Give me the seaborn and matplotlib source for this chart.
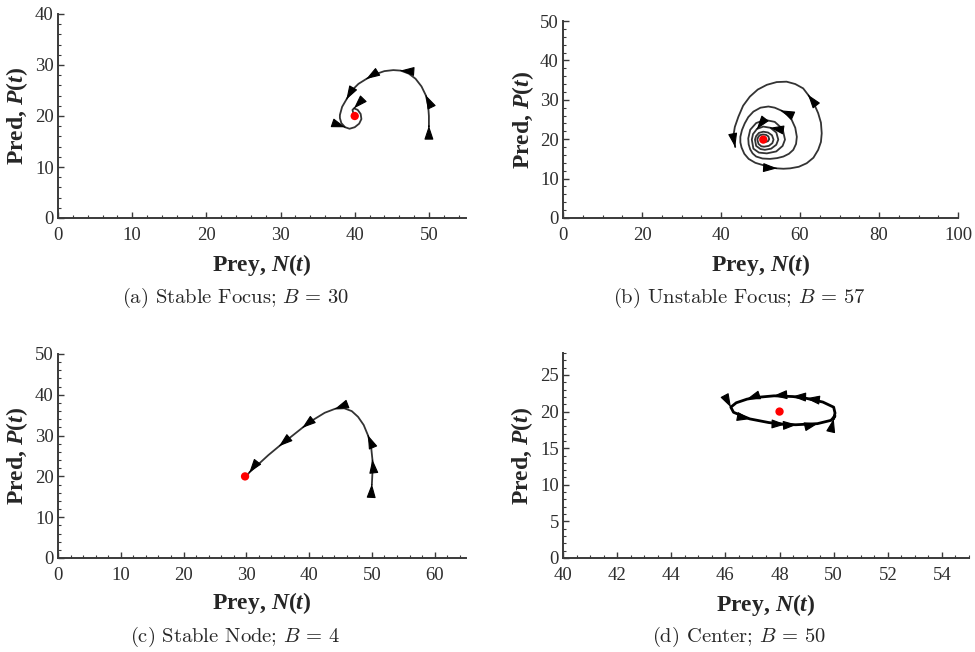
import numpy as np
import pandas as pd
import matplotlib
matplotlib.use("Agg")
import matplotlib.pyplot as plt
import seaborn as sns
from matplotlib.ticker import MultipleLocator

sns.set_style("ticks")
plt.rcParams["font.family"] = ["Liberation Serif", "DejaVu Serif"]
plt.rcParams["mathtext.fontset"] = "custom"
plt.rcParams["mathtext.rm"] = "Liberation Serif:bold"
plt.rcParams["mathtext.it"] = "Liberation Serif:bold:italic"
plt.rcParams["mathtext.bf"] = "Liberation Serif:bold"

# (a) Stable focus, B = 30
prey_a = [50.0, 50.0, 49.9, 49.6, 49.0, 48.2, 47.3, 46.2, 45.2, 44.0, 42.8, 41.6, 40.5,
          39.6, 38.9, 38.3, 38.0, 38.0, 38.2, 38.7, 39.3, 40.0, 40.6, 40.9, 40.8, 40.4,
          39.9, 39.7, 39.8, 40.0]
pred_a = [18.0, 20.0, 22.0, 24.0, 25.8, 27.3, 28.3, 28.9, 29.0, 28.8, 28.2, 27.3, 26.3,
          25.0, 23.3, 21.8, 20.2, 19.6, 18.6, 17.8, 17.5, 17.8, 18.5, 19.4, 20.4, 21.2,
          21.5, 21.2, 20.6, 20.0]
arrows_a = [0, 3, 7, 11, 14, 19, 26]
eq_a = (40.0, 20.0)

# (b) Unstable focus, B = 57 (spiral read ring by ring, inside out)
prey_b = [50.7, 51.3, 51.9, 52.2, 52.0, 51.4, 50.6, 49.8, 49.4,
          49.2, 49.5, 50.2, 50.9, 52.1, 53.0, 53.3, 52.9, 51.9, 50.7, 49.6, 48.9,
          48.6, 48.9, 50.0, 51.1, 52.7, 54.0, 54.5, 54.0, 52.5, 50.7, 49.1, 48.1,
          47.8, 48.2, 49.6, 51.6, 54.0, 55.6, 56.2, 55.6, 53.6, 51.1, 48.9, 47.4,
          46.9, 47.0, 47.4, 48.0, 48.9, 50.5, 52.4, 54.2, 55.8, 57.2, 58.3, 59.0,
          59.2, 58.8, 57.9, 56.7, 55.2, 53.6, 52.0, 50.0, 48.2, 46.9, 46.0, 45.3,
          44.9, 44.9, 45.2, 45.9, 47.0, 48.7, 50.7, 52.3, 54.1, 55.8, 57.5, 59.7,
          61.7, 63.4, 64.6, 65.3, 65.5, 65.3, 64.6, 63.5, 62.1, 60.8, 58.8, 56.6,
          54.1, 51.6, 49.3, 47.3, 45.6, 44.4, 43.5, 43.1, 43.6]
pred_b = [19.6, 19.3, 19.5, 20.0, 20.7, 21.1, 21.2, 21.0, 20.5,
          19.9, 18.8, 18.2, 18.1, 18.3, 19.0, 19.9, 21.0, 21.7, 21.9, 21.6, 20.8,
          19.9, 18.3, 17.5, 17.3, 17.6, 18.6, 19.9, 21.7, 22.9, 23.2, 22.6, 21.3,
          19.9, 17.6, 16.6, 16.4, 16.9, 18.3, 19.9, 22.6, 24.4, 24.9, 24.1, 22.4,
          20.2, 18.7, 17.4, 16.4, 15.6, 15.1, 15.0, 15.2, 15.6, 16.3, 17.3, 18.8,
          20.6, 22.9, 24.9, 26.3, 27.3, 28.0, 28.3, 28.0, 27.0, 25.6, 24.0, 22.3,
          20.6, 19.2, 17.9, 16.3, 15.0, 14.0, 13.4, 12.9, 12.6, 12.5, 12.6, 13.0,
          13.9, 15.3, 17.3, 19.3, 21.5, 24.2, 26.6, 29.1, 31.2, 32.9, 34.0, 34.6,
          34.5, 33.8, 32.6, 30.8, 28.5, 25.7, 23.1, 20.6, 18.0]
arrows_b = [29, 31, 61, 77, 89, 101]
eq_b = (50.7, 19.9)

# (c) Stable node, B = 4
prey_c = [50.0, 50.1, 50.1, 49.9, 49.4, 48.7, 47.8, 46.8, 45.6, 44.2, 42.5, 40.8,
          39.0, 37.2, 35.3, 33.5, 31.8, 30.5, 30.0]
pred_c = [18.0, 21.0, 24.0, 27.0, 30.0, 32.6, 34.6, 36.0, 36.7, 36.6, 35.6, 34.0,
          32.0, 29.8, 27.5, 25.2, 22.8, 21.0, 20.0]
arrows_c = [0, 2, 4, 9, 12, 14, 17]
eq_c = (29.8, 20.0)

# (d) Center, B = 50
prey_d = [50.0, 50.05, 50.0, 49.6, 49.0, 48.5, 47.8, 47.2, 46.8, 46.4, 46.2, 46.3,
          46.9, 47.6, 48.2, 48.6, 49.4, 49.9, 50.05]
pred_d = [19.0, 19.8, 20.6, 21.3, 21.8, 22.05, 22.15, 21.95, 21.7, 21.2, 20.6, 19.9,
          19.0, 18.5, 18.25, 18.2, 18.35, 18.8, 19.4]
arrows_d = [0, 4, 5, 6, 8, 10, 12, 14, 15, 16]
eq_d = (48.0, 20.0)

W, H = 975, 652
fig = plt.figure(figsize=(W / 100, H / 100), dpi=100)


def make_axes(left, right, top, bottom):
    return fig.add_axes([left / W, (H - bottom) / H, (right - left) / W, (bottom - top) / H])


def panel(ax, prey, pred, arrows, eq, xlim, ylim, xmaj, xmin, ymaj, ymin,
          caption, cap_xy, xl_y, lw=1.3, color="#333333"):
    df = pd.DataFrame({"prey": prey, "pred": pred})
    sns.lineplot(data=df, x="prey", y="pred", sort=False, estimator=None,
                 ax=ax, color=color, lw=lw)
    last = len(prey) - 1
    for i in arrows:
        if i < last:
            x0, y0 = prey[i], pred[i]
            x1, y1 = prey[i + 1], pred[i + 1]
            tail, tip = (x0, y0), (x0 + 0.05 * (x1 - x0), y0 + 0.05 * (y1 - y0))
        else:
            x0, y0 = prey[i - 1], pred[i - 1]
            x1, y1 = prey[i], pred[i]
            tail, tip = (x0 + 0.95 * (x1 - x0), y0 + 0.95 * (y1 - y0)), (x1, y1)
        ax.annotate("", xy=tip, xytext=tail,
                    arrowprops=dict(arrowstyle="-|>,head_length=0.6,head_width=0.2",
                                    color="black", lw=0.8, shrinkA=0, shrinkB=0,
                                    mutation_scale=14))
    sns.scatterplot(x=[eq[0]], y=[eq[1]], ax=ax, color="red", s=36,
                    edgecolor="none", zorder=5)
    ax.set_xlim(*xlim)
    ax.set_ylim(*ylim)
    ax.xaxis.set_major_locator(MultipleLocator(xmaj))
    ax.xaxis.set_minor_locator(MultipleLocator(xmin))
    ax.yaxis.set_major_locator(MultipleLocator(ymaj))
    ax.yaxis.set_minor_locator(MultipleLocator(ymin))
    for s in ["top", "right"]:
        ax.spines[s].set_visible(False)
    for s in ["left", "bottom"]:
        ax.spines[s].set_color("#3a3a3a")
        ax.spines[s].set_linewidth(1.4)
    ax.tick_params(which="major", direction="in", length=4, width=1.0,
                   color="#3a3a3a", labelsize=13.5, labelcolor="#2e2e2e")
    ax.tick_params(axis="x", which="major", pad=6.5)
    ax.tick_params(axis="y", which="major", pad=3)
    ax.tick_params(which="minor", direction="in", length=2, width=0.8, color="#3a3a3a")
    ax.set_xlabel("Prey, $N(t)$", fontsize=17, fontweight="bold", va="center")
    ax.set_ylabel("Pred, $P(t)$", fontsize=17, fontweight="bold", va="center")
    ax.xaxis.set_label_coords(0.5, xl_y)
    ax.yaxis.set_label_coords(-0.1, 0.5)
    ax.text(cap_xy[0], cap_xy[1], caption, transform=ax.transAxes, ha="center",
            va="center", fontsize=14.8, family="cmr10", math_fontfamily="cm")


ax_a = make_axes(58, 466, 14, 218)
panel(ax_a, prey_a, pred_a, arrows_a, eq_a, (0, 55), (0, 40), 10, 2, 10, 2,
      r"(a) Stable Focus; $B\,=\,30$", (0.434, -0.392), -0.23)

ax_b = make_axes(563, 958, 21, 218)
panel(ax_b, prey_b, pred_b, arrows_b, eq_b, (0, 100), (0, 50), 20, 5, 10, 2,
      r"(b) Unstable Focus; $B\,=\,57$", (0.4456, -0.406), -0.239)

ax_c = make_axes(58, 466, 354, 558)
panel(ax_c, prey_c, pred_c, arrows_c, eq_c, (0, 65), (0, 50), 10, 2, 10, 2,
      r"(c) Stable Node; $B\,=\,4$", (0.434, -0.387), -0.22)

ax_d = make_axes(563, 969, 353, 558)
panel(ax_d, prey_d, pred_d, arrows_d, eq_d, (40, 55), (0, 28), 2, 0.5, 5, 1,
      r"(d) Center; $B\,=\,50$", (0.4335, -0.386), -0.23, lw=2.0, color="black")

fig.savefig("out.png", dpi=100)
